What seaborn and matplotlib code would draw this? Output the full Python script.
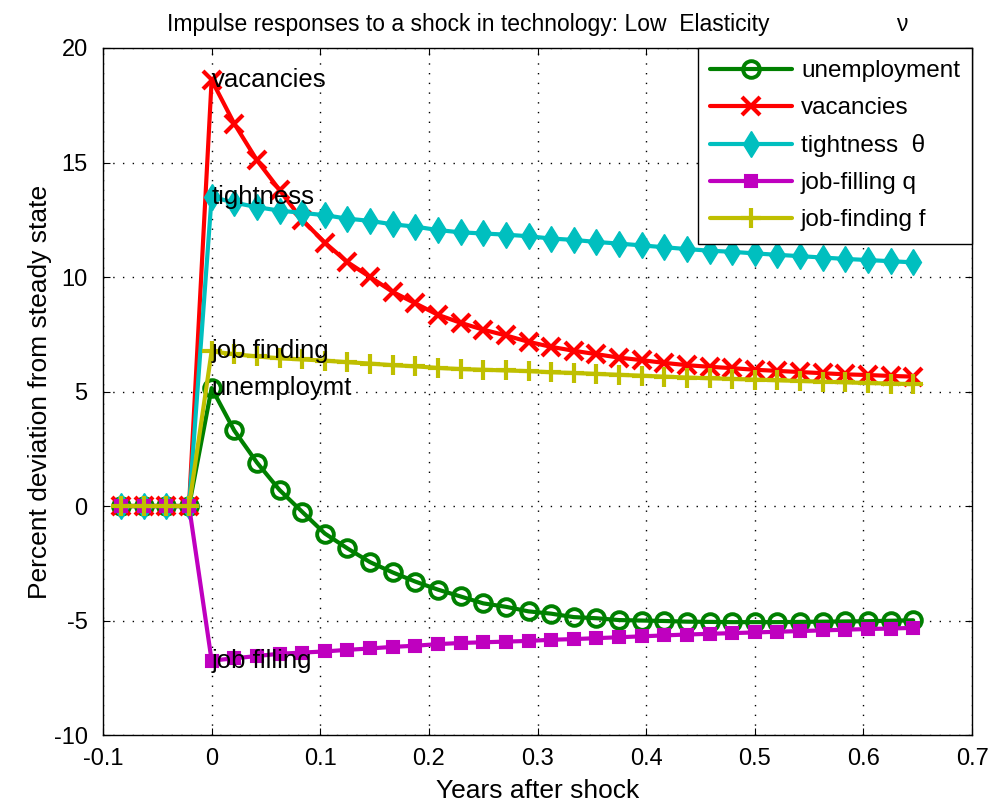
import numpy as np
import pandas as pd
import seaborn as sns
import matplotlib
matplotlib.use('Agg')
import matplotlib.pyplot as plt

# years after shock (weekly steps, 4 pre-shock periods)
years = [-0.0833, -0.0625, -0.0417, -0.0208, 0.0, 0.0208, 0.0417, 0.0625, 0.0833,
         0.1042, 0.125, 0.1458, 0.1667, 0.1875, 0.2083, 0.2292, 0.25, 0.2708,
         0.2917, 0.3125, 0.3333, 0.3542, 0.375, 0.3958, 0.4167, 0.4375, 0.4583,
         0.4792, 0.5, 0.5208, 0.5417, 0.5625, 0.5833, 0.6042, 0.625, 0.6458]

unemployment = [0, 0, 0, 0,
                5.15, 3.3, 1.9, 0.7, -0.25, -1.2, -1.85, -2.45, -2.9, -3.3, -3.65,
                -3.95, -4.25, -4.4, -4.6, -4.7, -4.85, -4.9, -4.98, -5.0, -5.02,
                -5.05, -5.06, -5.07, -5.07, -5.07, -5.06, -5.05, -5.04, -5.03,
                -5.01, -4.99]
vacancies = [0, 0, 0, 0,
             18.6, 16.7, 15.1, 13.8, 12.5, 11.5, 10.65, 10.0, 9.35, 8.85, 8.35,
             8.0, 7.7, 7.45, 7.17, 6.95, 6.78, 6.63, 6.48, 6.37, 6.25, 6.15,
             6.08, 6.02, 5.95, 5.9, 5.85, 5.8, 5.75, 5.72, 5.68, 5.65]
tightness = [0, 0, 0, 0,
             13.5, 13.25, 13.05, 12.9, 12.8, 12.7, 12.55, 12.45, 12.3, 12.2,
             12.05, 11.95, 11.9, 11.85, 11.78, 11.68, 11.62, 11.53, 11.46,
             11.38, 11.3, 11.22, 11.15, 11.1, 11.03, 10.97, 10.91, 10.85,
             10.79, 10.74, 10.69, 10.64]
job_filling = [0, 0, 0, 0,
               -6.75, -6.65, -6.55, -6.45, -6.4, -6.35, -6.28, -6.22, -6.15,
               -6.1, -6.03, -5.98, -5.95, -5.92, -5.89, -5.84, -5.81, -5.77,
               -5.73, -5.69, -5.65, -5.61, -5.58, -5.55, -5.52, -5.49, -5.46,
               -5.43, -5.4, -5.37, -5.35, -5.32]
job_finding = [0, 0, 0, 0,
               6.75, 6.63, 6.53, 6.45, 6.4, 6.35, 6.28, 6.22, 6.15, 6.1, 6.03,
               5.98, 5.95, 5.92, 5.89, 5.84, 5.81, 5.77, 5.73, 5.69, 5.65, 5.61,
               5.58, 5.55, 5.52, 5.49, 5.46, 5.43, 5.4, 5.37, 5.35, 5.32]

legend_labels = ['unemployment', 'vacancies', 'tightness  \u03b8', 'job-filling q', 'job-finding f']
point_labels = ['unemploymt', 'vacancies', 'tightness', 'job filling', 'job finding']

df = pd.DataFrame({'years': years, 'unemployment': unemployment, 'vacancies': vacancies,
                   'tightness': tightness, 'job_filling': job_filling,
                   'job_finding': job_finding})
cols = ['unemployment', 'vacancies', 'tightness', 'job_filling', 'job_finding']

# matlab-ish styles
styles = {
    'unemployment': dict(color='#008000', marker='o', markersize=12, markerfacecolor='none', markeredgewidth=2.8),
    'vacancies':    dict(color='#ff0000', marker='x', markersize=13, markerfacecolor='#ff0000', markeredgewidth=3.0),
    'tightness':    dict(color='#00bfbf', marker='d', markersize=13, markerfacecolor='#00bfbf', markeredgewidth=1.0),
    'job_filling':  dict(color='#bf00bf', marker='s', markersize=9, markerfacecolor='#bf00bf', markeredgewidth=1.5),
    'job_finding':  dict(color='#bfbf00', marker='+', markersize=15, markerfacecolor='#bfbf00', markeredgewidth=3.0),
}

sns.set_style('ticks')
plt.rcParams['font.family'] = ['Liberation Sans', 'DejaVu Sans']
plt.rcParams['font.size'] = 14
plt.rcParams['axes.unicode_minus'] = False
for k in ['text.color', 'axes.labelcolor', 'xtick.color', 'ytick.color']:
    plt.rcParams[k] = 'black'

fig = plt.figure(figsize=(9.97, 8.08), dpi=100)
ax = fig.add_axes([0.1033, 0.0903, 0.8717, 0.8503])

for c, lab in zip(cols, legend_labels):
    st = styles[c]
    sns.lineplot(data=df, x='years', y=c, ax=ax, linewidth=3, label=lab,
                 markeredgecolor=st['color'], **st)

# labels at the shock impact point
for c, txt in zip(cols, point_labels):
    ax.text(0.0, df.loc[df['years'] == 0.0, c].values[0], txt,
            ha='left', va='center', fontsize=18.5, color='black', zorder=10)

ax.set_xlim(-0.1, 0.7)
ax.set_ylim(-10, 20)
ax.set_xticks(np.arange(-0.1, 0.71, 0.1))
ax.set_xticklabels(['-0.1', '0', '0.1', '0.2', '0.3', '0.4', '0.5', '0.6', '0.7'])
ax.set_yticks(np.arange(-10, 21, 5))
ax.tick_params(direction='in', top=True, right=True, labelsize=17, length=5, width=0.8)
ax.tick_params(axis='x', pad=9)
ax.tick_params(axis='y', pad=11)
ax.grid(True, color='black', linestyle=(0, (1, 6)), linewidth=1.0)
for sp in ax.spines.values():
    sp.set_visible(True)
    sp.set_linewidth(1.0)
    sp.set_color('black')

ax.set_xlabel('Years after shock', fontsize=19, labelpad=7)
ax.set_ylabel('Percent deviation from steady state', fontsize=19, labelpad=1)
ax.set_title('Impulse responses to a shock in technology: Low  Elasticity' + ' ' * 20 + '\u03bd',
             fontsize=16.5, pad=12)

leg = ax.legend(loc='upper right', borderaxespad=0, frameon=True, fancybox=False,
                edgecolor='black', framealpha=1, fontsize=17.5, handlelength=3.4,
                numpoints=1, labelspacing=0.62, borderpad=0.5, handletextpad=0.35)
leg.get_frame().set_linewidth(1.0)

fig.savefig('out.png', dpi=100)
